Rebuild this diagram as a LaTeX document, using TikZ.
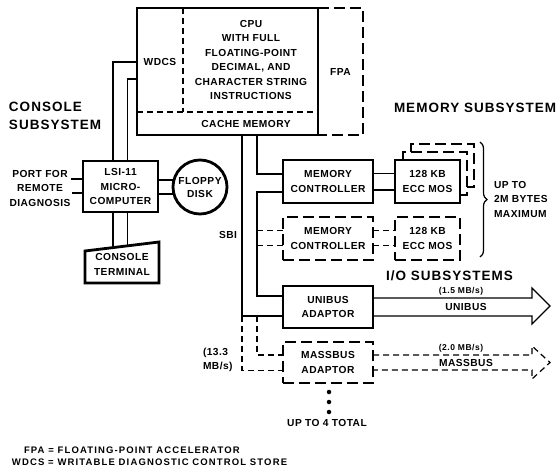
\documentclass[tikz,border=0pt]{standalone}
\usepackage{fontspec}
\newfontfamily\dgsmall[LetterSpace=4.5]{Liberation Sans}
\newfontfamily\dgtiny[LetterSpace=6]{Liberation Sans}
\newfontfamily\dgfoot[LetterSpace=12]{Liberation Sans}
\newfontfamily\dgbig[LetterSpace=7.5]{Liberation Sans}
\usetikzlibrary{calc,decorations.pathreplacing}
\tikzset{
  every node/.style={inner sep=0pt, outer sep=0pt},
  txt/.style={font=\dgsmall\bfseries\fontsize{10.2}{14.5}\selectfont, align=center},
  tinytxt/.style={font=\dgtiny\bfseries\fontsize{8.5}{10}\selectfont, align=center},
  foot/.style={font=\dgfoot\bfseries\fontsize{9.5}{12}\selectfont, align=left},
  bigtxt/.style={font=\dgbig\bfseries\fontsize{13.5}{18}\selectfont, align=left},
  thickline/.style={line width=2.8pt, line join=miter},
  thickdash/.style={line width=2.8pt, dash pattern=on 11pt off 5pt},
  conn/.style={line width=1.2pt},
  thindash/.style={line width=1.2pt, dash pattern=on 6pt off 4pt},
  box/.style={draw, line width=2.8pt, txt},
  dbox/.style={draw, line width=2.8pt, dash pattern=on 11pt off 5pt, txt},
  dotnode/.style={circle, fill, minimum size=4.5pt}
}
\begin{document}
\begin{tikzpicture}[x=1pt,y=-1pt]
\useasboundingbox (0,0) rectangle (558,471);

% CPU and FPA
\node[minimum width=181pt, minimum height=127pt] (cpu) at (227.5,71.5) {};
\draw[thickline] (cpu.north east) -- (cpu.north west) -- (cpu.south west) -- (cpu.south east);
\draw[line width=2pt] (cpu.north east) -- (cpu.south east);
\node[minimum width=45pt, minimum height=127pt, txt] (fpa) at (340.5,71.5) {FPA};
\draw[thickdash] (fpa.north west) -- (fpa.north east) -- (fpa.south east) -- (fpa.south west);
\draw[thindash] (137,112) -- (318,112);
\draw[thindash] (183,8) -- (183,112);
\node[txt] (wdcs) at (160,62) {WDCS};
\node[txt] (cputxt) at (251,60) {CPU\\WITH FULL\\FLOATING-POINT\\DECIMAL, AND\\CHARACTER STRING\\INSTRUCTIONS};
\node[txt] (cache) at (246,123.5) {CACHE MEMORY};

% Console subsystem
\node[bigtxt, anchor=west] (consub) at (9,116) {CONSOLE\\SUBSYSTEM};
\node[box, minimum width=75pt, minimum height=51pt] (lsi) at (120.5,186.5) {LSI-11\\MICRO-\\COMPUTER};
\node[circle, draw, line width=2.8pt, minimum size=54pt, txt, font=\dgsmall\bfseries\fontsize{10.2}{13}\selectfont] (floppy) at (200,187) {FLOPPY\\DISK};
\node[txt] (port) at (40,188) {PORT FOR\\REMOTE\\DIAGNOSIS};
\coordinate (p1) at (71,179);
\coordinate (p2) at (72,193);
\draw[conn] (p1) -- (p1 -| lsi.west);
\draw[conn] (p2) -- (p2 -| lsi.west);
\draw[conn] (floppy.165) -- (floppy.165 -| lsi.east);
\draw[conn] (floppy.195) -- (floppy.195 -| lsi.east);
\node[txt] (term) at (122,264.5) {CONSOLE\\TERMINAL};
\draw[thickline] ($(term)+(-37,-13.5)$) -- ($(term)+(37,-22.5)$) -- ($(term)+(37,18.5)$) -- ($(term)+(-37,18.5)$) -- cycle;
\draw[conn] ($(lsi.south)+(-7.5,0)$) -- ($(term)+(-9,-16.9)$);
\draw[conn] ($(lsi.south)+(7,0)$) -- ($(term)+(5.5,-18.7)$);
\draw[conn] (cpu.west |- wdcs) -| ($(lsi.north)+(-7.5,0)$);
\draw[conn] ($(cpu.west)+(0,7.5)$) -| ($(lsi.north)+(7,0)$);

% Memory subsystem
\node[bigtxt, anchor=west] (memsub) at (394,108) {MEMORY SUBSYSTEM};
\node[box, minimum width=90pt, minimum height=43pt] (mc1) at (328,181.5) {MEMORY\\CONTROLLER};
\node[box, minimum width=65pt, minimum height=43pt] (mos1) at (427.5,181.5) {128 KB\\ECC MOS};
\draw[conn] ($(mc1.east)+(0,-8)$) -- ($(mos1.west)+(0,-8)$);
\draw[conn] ($(mc1.east)+(0,8.5)$) -- ($(mos1.west)+(0,8.5)$);
\draw[thickdash] ($(mos1.north west)+(8,0)$) -- ++(0,-8) -| ($(mos1.south east)+(7,-8)$) -- ++(-7,0);
\draw[thickdash] ($(mos1.north west)+(16,-8)$) -- ++(0,-8) -| ($(mos1.south east)+(14,-16)$) -- ++(-7,0);
\coordinate (bt) at (480,142);
\coordinate (bb) at (480,257);
\draw[conn, decorate, decoration={brace, amplitude=7pt}] (bt) -- (bb);
\node[txt, align=left, anchor=west] (maxtxt) at (494,199) {UP TO\\2M BYTES\\MAXIMUM};
\node[dbox, minimum width=90pt, minimum height=43pt] (mc2) at (328,238.5) {MEMORY\\CONTROLLER};
\node[dbox, minimum width=65pt, minimum height=43pt] (mos2) at (427.5,238.5) {128 KB\\ECC MOS};
\draw[thindash] ($(mc2.east)+(0,-8)$) -- ($(mos2.west)+(0,-8)$);
\draw[thindash] ($(mc2.east)+(0,7)$) -- ($(mos2.west)+(0,7)$);

% I/O subsystems
\node[bigtxt, anchor=west] (iosub) at (386,276) {I/O SUBSYSTEMS};
\node[box, minimum width=90pt, minimum height=42pt] (uni) at (328,307) {UNIBUS\\ADAPTOR};
\coordinate (utip) at (550,306);
\draw[conn, line join=miter] ($(uni.east)+(0,-9)$) -- ($(utip)+(-18,-8)$) -- ($(utip)+(-18,-18)$) -- (utip) -- ($(utip)+(-18,18)$) -- ($(utip)+(-18,10)$) -- ($(uni.east)+(0,9)$);
\node[tinytxt] (urate) at (461,291.5) {(1.5 MB/s)};
\node[txt] (ulab) at (466,307) {UNIBUS};
\node[dbox, minimum width=90pt, minimum height=41pt] (mass) at (328,362.5) {MASSBUS\\ADAPTOR};
\coordinate (mtip) at (550,362.5);
\draw[thindash, line join=miter] ($(mass.east)+(0,-7.5)$) -- ($(mtip)+(-18,-7.5)$) -- ($(mtip)+(-18,-16.5)$) -- (mtip) -- ($(mtip)+(-18,16.5)$) -- ($(mtip)+(-18,7.5)$) -- ($(mass.east)+(0,7.5)$);
\node[tinytxt] (mrate) at (461,348.5) {(2.0 MB/s)};
\node[txt] (mlab) at (466,363) {MASSBUS};

% SBI
\draw[conn] ($(cpu.south west)+(105,0)$) |- ($(uni.west)+(0,9)$);
\draw[conn] ($(cpu.south west)+(120,0)$) |- ($(mc1.west)+(0,-7.5)$);
\draw[conn] ($(mc1.west)+(0,10.5)$) -- ++(-26,0) |- ($(uni.west)+(0,-11)$);
\draw[thindash] ($(mc2.west)+(-26,-8)$) -- ($(mc2.west)+(0,-8)$);
\draw[thindash] ($(mc2.west)+(-26,7)$) -- ($(mc2.west)+(0,7)$);
\draw[thindash] ($(uni.west)+(-41,9)$) |- ($(mass.west)+(0,8)$);
\draw[thindash] ($(uni.west)+(-26,9)$) |- ($(mass.west)+(0,-7.5)$);
\node[txt] (sbi) at (228,235) {SBI};
\node[txt, align=left, anchor=west] (rate) at (203,360) {(13.3\\MB/s)};

\node[dotnode] (d1) at (329,392) {};
\node[dotnode] (d2) at (329,402) {};
\node[dotnode] (d3) at (329,412) {};
\node[txt] (upto) at (327,423) {UP TO 4 TOTAL};

% Footnotes
\node[foot, anchor=west] (fn1) at (24,450) {FPA = FLOATING-POINT ACCELERATOR};
\node[foot, anchor=west] (fn2) at (12,462) {WDCS = WRITABLE DIAGNOSTIC CONTROL STORE};
\end{tikzpicture}
\end{document}
